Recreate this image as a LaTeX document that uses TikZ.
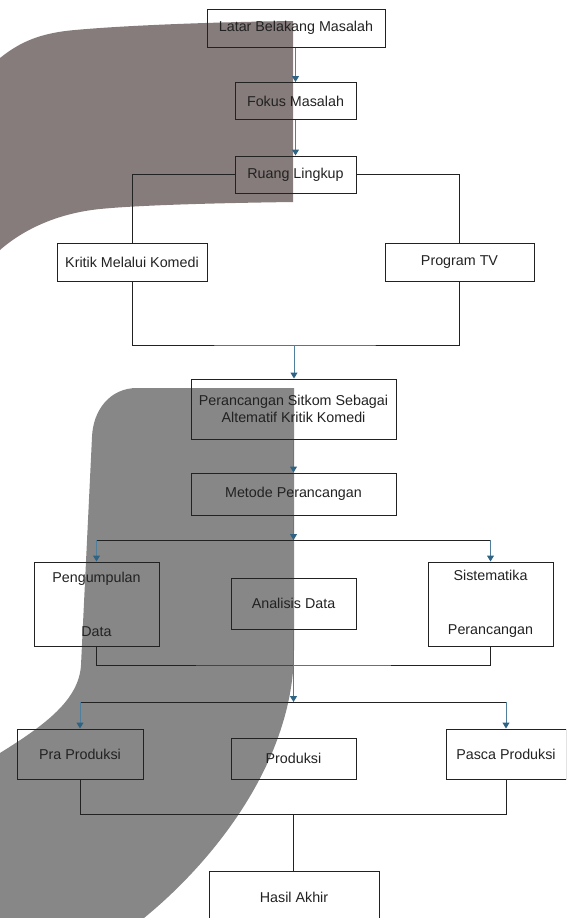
\documentclass[tikz,border=0pt]{standalone}
\usepackage{fontspec}
\setmainfont{Liberation Sans}
\usetikzlibrary{arrows.meta}
\definecolor{wmA}{HTML}{857C7B}
\definecolor{wmB}{HTML}{878787}
\definecolor{bluel}{HTML}{4F7F9B}
\definecolor{bluetip}{HTML}{2E6383}
\definecolor{ink}{HTML}{222222}
\begin{document}
\begin{tikzpicture}[x=1pt,y=-1pt,
  box/.style={draw=ink,line width=1pt,inner sep=0pt,font=\fontsize{14.3}{17}\selectfont,text=ink,align=center},
  link/.style={draw=ink,line width=1pt},
  flow/.style={draw=bluel,line width=1pt,-{Triangle[width=7pt,length=6pt,color=bluetip]}}]
\useasboundingbox (0,0) rectangle (566,918);
\clip (0,0) rectangle (566,918);
% watermark shapes
\fill[wmA] (0,58) .. controls (20,42) and (40,33) .. (75,30) .. controls (130,25) and (220,22) .. (293,21)
  -- (293,202) .. controls (220,203) and (140,205) .. (100,209) .. controls (60,213) and (25,228) .. (0,250) -- cycle;
\fill[wmB] (294,388) -- (137,388) .. controls (110,388) and (93,410) .. (92,437) -- (81,665)
  .. controls (79,700) and (45,725) .. (0,753) -- (0,918) -- (144,918)
  .. controls (215,860) and (294,760) .. (294,650) -- cycle;
% nodes
\node[box,minimum width=178pt,minimum height=38pt] (latar) at (296,28) {Latar Belakang Masalah};
\node[box,minimum width=121pt,minimum height=37pt] (fokus) at (295.5,101) {Fokus Masalah};
\node[box,minimum width=121pt,minimum height=37pt] (ruang) at (295.5,174.5) {Ruang Lingkup};
\node[box,minimum width=150pt,minimum height=38pt] (kritik) at (132,262) {Kritik Melalui Komedi};
\node[box,minimum width=149pt,minimum height=38pt] (program) at (459.5,262) {Program TV};
\node[box,minimum width=205pt,minimum height=60pt] (peran) at (293.5,409) {Perancangan Sitkom Sebagai\\Altematif Kritik Komedi};
\node[box,minimum width=205pt,minimum height=42pt] (metode) at (293.5,494) {Metode Perancangan};
\node[box,minimum width=125pt,minimum height=84pt] (kumpul) at (96.5,604) {Pengumpulan\\[37pt]Data};
\node[box,minimum width=125pt,minimum height=51pt] (analisis) at (293.5,603.5) {Analisis Data};
\node[box,minimum width=125pt,minimum height=84pt] (sistem) at (490.5,604) {Sistematika\\[37pt]Perancangan};
\node[box,minimum width=126pt,minimum height=50pt] (pra) at (80,754) {Pra Produksi};
\node[box,minimum width=125pt,minimum height=41pt] (produksi) at (293.5,758.5) {Produksi};
\node[box,minimum width=120pt,minimum height=50pt] (pasca) at (506,754) {Pasca Produksi};
\node[box,minimum width=170pt,minimum height=52pt] (hasil) at (294,897) {Hasil Akhir};
% coordinates
\coordinate (j1) at (294,345);
\coordinate (j2) at (293.5,540);
\coordinate (b2l) at (96.5,540);
\coordinate (b2r) at (490.5,540);
\coordinate (j3) at (293.5,665);
\coordinate (j4) at (293.5,702);
\coordinate (b4l) at (80,702);
\coordinate (b4r) at (506,702);
\coordinate (j5) at (293,814);
% connectors
\draw[flow] (latar.south -| fokus.north) -- (fokus.north);
\draw[flow] (fokus.south) -- (ruang.north);
\draw[link] (ruang.west) -| (kritik.north);
\draw[link] (ruang.east) -| (program.north);
\draw[link] (kritik.south) |- (j1) -| (program.south);
\draw[flow] (j1) -- (j1 |- peran.north);
\draw[flow] (peran.south) -- (metode.north);
\draw[flow] (metode.south) -- (j2);
\draw[link] (b2l) -- (b2r);
\draw[flow] (b2l) -- (kumpul.north);
\draw[flow] (b2r) -- (sistem.north);
\draw[link] (kumpul.south) |- (j3) -| (sistem.south);
\draw[flow] (analisis.south) -- (j4);
\draw[link] (b4l) -- (b4r);
\draw[flow] (b4l) -- (pra.north);
\draw[flow] (b4r) -- (pasca.north);
\draw[link] (pra.south) |- (j5) -| (pasca.south);
\draw[link] (j5) -- (j5 |- hasil.north);
\end{tikzpicture}
\end{document}
